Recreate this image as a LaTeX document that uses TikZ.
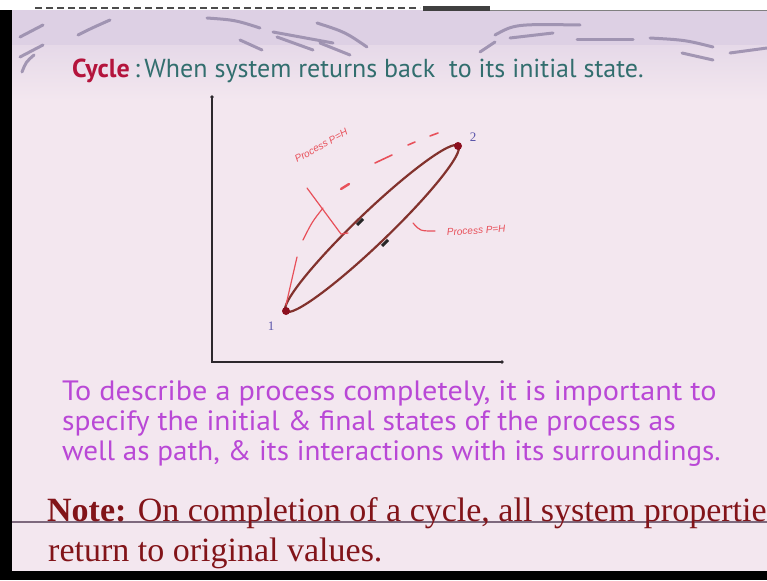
\documentclass[tikz,border=0pt]{standalone}
\usepackage{fontspec}
\setmainfont{Liberation Serif}
\newfontfamily\slidesans{PT Sans}
\newfontfamily\handfont{Liberation Sans}
\definecolor{slidebg}{RGB}{243,231,239}
\definecolor{slidetop}{RGB}{221,208,228}
\definecolor{swirl}{RGB}{150,138,170}
\definecolor{cyclered}{RGB}{180,20,60}
\definecolor{cycleteal}{RGB}{50,110,110}
\definecolor{purpletext}{RGB}{185,72,214}
\definecolor{notered}{RGB}{130,20,25}
\definecolor{axisgray}{RGB}{45,40,45}
\definecolor{loopred}{RGB}{130,50,45}
\definecolor{dotred}{RGB}{140,15,30}
\definecolor{numblue}{RGB}{90,85,170}
\definecolor{handred}{RGB}{232,80,90}
\definecolor{rulegray}{RGB}{125,105,125}
\begin{document}
\begin{tikzpicture}[x=1pt,y=-1pt,
  swirlstroke/.style={draw=swirl,line width=3pt,line cap=round,opacity=0.85},
  axisline/.style={draw=axisgray,line width=2.6pt},
  loopline/.style={draw=loopred,line width=2.2pt},
  dirmark/.style={draw=black!85,line width=3pt},
  endpt/.style={fill=dotred},
  numlabel/.style={text=numblue,font=\fontsize{13}{13}\selectfont,inner sep=0pt},
  handline/.style={draw=handred,line width=1.2pt,line cap=round},
  handlabel/.style={text=handred,font=\handfont\itshape\fontsize{10}{10}\selectfont,inner sep=0pt},
  cycletext/.style={font=\slidesans\fontsize{26}{26}\selectfont,inner sep=0pt},
  purpleline/.style={text=purpletext,font=\slidesans\fontsize{28}{28}\selectfont,inner sep=0pt,anchor=base west},
  noteline/.style={text=notered,font=\fontsize{34}{34}\selectfont,inner sep=0pt,anchor=base west}
]
\useasboundingbox (0,0) rectangle (767,580);
\clip (0,0) rectangle (767,580);
% background
\fill[slidebg] (0,0) rectangle (767,580);
\shade[top color=slidetop,bottom color=slidebg] (0,10) rectangle (767,100);
\fill[slidetop] (0,10) rectangle (767,45);
\fill[white] (0,0) rectangle (767,10);
\draw[black!70,line width=2.5pt,dash pattern=on 7pt off 4pt] (35,8) -- (420,8);
\fill[black!75] (423,6) rectangle (490,11);
\draw[gray,line width=1pt] (490,10.5) -- (767,10.5);
% swirls
\draw[swirlstroke] (20,37) -- (43,25);
\draw[swirlstroke] (20,57) -- (43,45);
\draw[swirlstroke] (22,72) .. controls (26,62) .. (34,55);
\draw[swirlstroke] (78,35) .. controls (92,28) .. (110,20);
\draw[swirlstroke] (207,18) .. controls (235,20) .. (260,28);
\draw[swirlstroke] (273,32) -- (333,43);
\draw[swirlstroke] (277,37) -- (313,50);
\draw[swirlstroke] (317,23) .. controls (345,32) .. (367,47);
\draw[swirlstroke] (320,43) -- (350,55);
\draw[swirlstroke] (240,40) -- (262,50);
\draw[swirlstroke] (495,35) .. controls (515,24) .. (580,25);
\draw[swirlstroke] (510,38) -- (553,33);
\draw[swirlstroke] (480,52) -- (495,42);
\draw[swirlstroke] (577,40) -- (633,40);
\draw[swirlstroke] (650,38) .. controls (685,40) .. (713,47);
\draw[swirlstroke] (682,53) -- (713,60);
\draw[swirlstroke] (730,53) -- (767,48);
% black frame
\fill[black] (0,10) rectangle (12,580);
\fill[black] (0,571) rectangle (767,580);
% title
\node[cycletext,anchor=base west,text=cyclered] (cyc) at (72,78) {\bfseries Cycle};
\node[cycletext,anchor=base west,text=cycleteal] (cdef) at (cyc.base east) {\,:\,When system returns back\ \ to its initial state.};
% axes
\coordinate (ytop) at (212,97);
\coordinate (origin) at (212,362);
\coordinate (xend) at (502,362);
\draw[axisline] (ytop) -- (origin) -- (xend);
\fill[axisgray] (ytop) circle (1.8pt);
\fill[axisgray] (xend) circle (1.8pt);
% cycle loop
\coordinate (p1) at (286,311);
\coordinate (p2) at (458,146);
\begin{scope}[shift={(372,228.5)},rotate=43.8]
  \draw[loopline] (0,0) ellipse [x radius=119.5pt,y radius=16pt];
\end{scope}
\draw[dirmark] (357,225) -- (363,219);
\draw[dirmark] (382,246) -- (388,240);
\fill[endpt] (p1) circle (4pt);
\fill[endpt] (p2) circle (4pt);
\node[numlabel] (n1) at (271,326) {1};
\node[numlabel] (n2) at (473,137) {2};
% handwritten annotations
\node[handlabel,anchor=base west,rotate=29] (h1) at (297,163) {Process P=H};
\draw[handline,line width=1.6pt] (430,136) -- (438,133);
\draw[handline,line width=1.6pt] (408,145) -- (415,142);
\draw[handline,line width=1.6pt] (375,163) -- (392,155);
\draw[handline,line width=2.4pt] (341,189) -- (349,184);
\draw[handline] (307,188) -- (341,234) -- (348,233);
\draw[handline] (323,208) .. controls (312,222) .. (303,240);
\draw[handline] (297,257) -- (286,305);
\node[handlabel,anchor=base west,rotate=4] (h2) at (447,236) {Process P=H};
\draw[handline] (413,223) .. controls (420,231) .. (435,231);
% purple text
\node[purpleline] (t1) at (62,400) {\scalebox{1.08}[1]{To describe a process completely, it is important to}};
\node[purpleline] (t2) at (62,430) {\scalebox{1.054}[1]{specify the initial \& final states of the process as}};
\node[purpleline] (t3) at (62,460) {\scalebox{1.04}[1]{well as path, \& its interactions with its surroundings.}};
% note
\draw[draw=rulegray,line width=1.2pt] (12,522) -- (767,522);
\node[noteline] (nt1) at (47,521) {\textbf{Note:} On completion of a cycle, all system propertie};
\node[noteline] (nt2) at (48,561) {return to original values.};
\end{tikzpicture}
\end{document}
